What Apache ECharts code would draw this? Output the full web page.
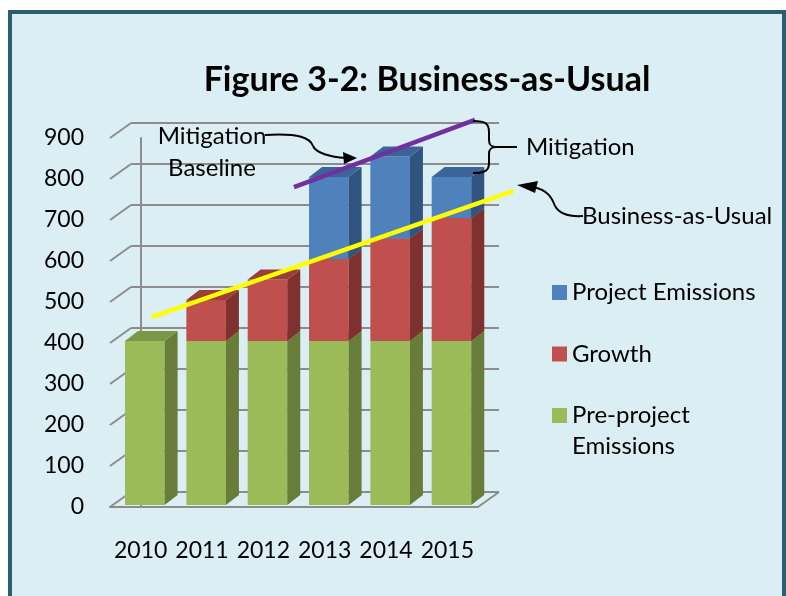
<!DOCTYPE html>
<html>
<head>
<meta charset="utf-8">
<script src="https://cdn.jsdelivr.net/npm/echarts@6/dist/echarts.min.js"></script>
<style>
  html, body { margin: 0; padding: 0; background: #fff; }
  #chart { width: 786px; height: 596px; }
</style>
</head>
<body>
<div id="chart"></div>
<script>
var years = ['2010', '2011', '2012', '2013', '2014', '2015']
var preProject = [400, 400, 400, 400, 400, 400]
var growth = [0, 100, 150, 200, 250, 300]
var projectEmissions = [0, 0, 0, 200, 200, 100]
var yTicks = [0, 100, 200, 300, 400, 500, 600, 700, 800, 900]
// trend lines drawn over the chart: [category position, value]
var bauTrend = [[0.18, 463], [6.08, 771]]
var baselineTrend = [[2.5, 780], [5.45, 944]]

var FONT = 'Lato'
var WALL_DX = 21, WALL_DY = -15   // depth of floor / back wall
var BAR_DX = 13, BAR_DY = -10     // depth of each column
var gridColor = '#8c8c8c'

// cumulative stack levels
var lvl1 = preProject.slice()
var lvl2 = lvl1.map(function (v, i) { return v + growth[i] })
var lvl3 = lvl2.map(function (v, i) { return v + projectEmissions[i] })

function stackData (base, top) {
  return years.map(function (y, i) { return [i, base ? base[i] : 0, top[i]] })
}

function wallItem (params, api) {
  var cs = params.coordSys
  var v = api.value(0)
  var y = api.coord([0, v])[1]
  var x0 = cs.x, x1 = cs.x + cs.width
  var st = { stroke: gridColor, lineWidth: 2 }
  var kids = [
    { type: 'line', shape: { x1: x0, y1: y, x2: x0 + WALL_DX, y2: y + WALL_DY }, style: st },
    { type: 'line', shape: { x1: x0 + WALL_DX, y1: y + WALL_DY, x2: x1 + WALL_DX, y2: y + WALL_DY }, style: st }
  ]
  if (v === 0) {
    kids.push({ type: 'line', shape: { x1: x1, y1: y, x2: x1 + WALL_DX, y2: y + WALL_DY }, style: st })
  }
  return { type: 'group', children: kids }
}

function barRenderer (front, side, topc) {
  return function (params, api) {
    var i = api.value(0), base = api.value(1), top = api.value(2)
    if (top <= base) return null
    var pt = api.coord([i, top])
    var pb = api.coord([i, base])
    var bw = api.size([1, 0])[0]
    var L = pt[0] - 0.255 * bw
    var R = L + 0.645 * bw
    var yT = pt[1] - 2, yB = pb[1] - 2
    return {
      type: 'group',
      children: [
        { type: 'rect', shape: { x: L, y: yT, width: R - L, height: yB - yT }, style: { fill: front } },
        { type: 'polygon', shape: { points: [[R, yT], [R + BAR_DX, yT + BAR_DY], [R + BAR_DX, yB + BAR_DY], [R, yB]] }, style: { fill: side } },
        { type: 'polygon', shape: { points: [[L, yT], [L + BAR_DX, yT + BAR_DY], [R + BAR_DX, yT + BAR_DY], [R, yT]] }, style: { fill: topc } }
      ]
    }
  }
}

function trendSeries (name, pts, color) {
  return {
    type: 'custom',
    name: name,
    xAxisIndex: 1,
    silent: true,
    z: 5,
    data: [pts[0].concat(pts[1])],
    encode: { x: [0, 2], y: [1, 3] },
    renderItem: function (params, api) {
      var a = api.coord([api.value(0), api.value(1)])
      var b = api.coord([api.value(2), api.value(3)])
      return { type: 'line', shape: { x1: a[0], y1: a[1], x2: b[0], y2: b[1] }, style: { stroke: color, lineWidth: 4.5 } }
    }
  }
}

// little helpers for the hand-drawn annotations
var ink = { fill: null, stroke: '#000', lineWidth: 2 }
function curve (x1, y1, c1x, c1y, c2x, c2y, x2, y2) {
  return { type: 'bezierCurve', z: 100, shape: { x1: x1, y1: y1, cpx1: c1x, cpy1: c1y, cpx2: c2x, cpy2: c2y, x2: x2, y2: y2 }, style: ink }
}
function seg (x1, y1, x2, y2) {
  return { type: 'line', z: 100, shape: { x1: x1, y1: y1, x2: x2, y2: y2 }, style: ink }
}
function label (text, x, y, align) {
  return { type: 'text', z: 100, x: x, y: y, style: { text: text, fontFamily: FONT, fontSize: 24, lineHeight: 32, fill: '#000', align: align, verticalAlign: 'middle' } }
}

var chart = echarts.init(document.getElementById('chart'))
chart.setOption({
  backgroundColor: '#ffffff',
  animation: false,
  title: {
    text: 'Figure 3-2: Business-as-Usual',
    left: 427,
    top: 63,
    textAlign: 'center',
    padding: 0,
    textStyle: { fontFamily: FONT, fontWeight: 'bold', fontSize: 34, color: '#000' }
  },
  legend: [{
    orient: 'vertical',
    left: 552,
    top: 277,
    padding: 0,
    itemGap: 30.5,
    itemWidth: 15,
    itemHeight: 15,
    selectedMode: false,
    icon: 'rect',
    data: ['Project Emissions', 'Growth'],
    textStyle: { fontFamily: FONT, fontSize: 24, color: '#000', lineHeight: 31 }
  }, {
    orient: 'vertical',
    left: 552,
    top: 369,
    padding: 0,
    itemWidth: 15,
    itemHeight: 15,
    selectedMode: false,
    icon: 'rect',
    data: ['Pre-project Emissions'],
    // blank first line keeps the icon level with "Pre-project"
    formatter: function () { return ' \nPre-project\nEmissions' },
    textStyle: { fontFamily: FONT, fontSize: 24, color: '#000', lineHeight: 31 }
  }],
  grid: { left: 110, right: 308, top: 138, bottom: 89 },
  xAxis: [{
    type: 'category',
    data: years,
    axisLine: { show: true, lineStyle: { color: gridColor, width: 2 } },
    axisTick: { show: false },
    axisLabel: { interval: 0, margin: 32, fontFamily: FONT, fontSize: 23, color: '#000' }
  }, {
    type: 'value',
    min: -0.5,
    max: 5.5,
    show: false
  }],
  yAxis: {
    type: 'value',
    min: 0,
    max: 900,
    interval: 100,
    axisLine: { show: true, lineStyle: { color: gridColor, width: 2 } },
    axisTick: { show: false },
    splitLine: { show: false },
    axisLabel: { margin: 26, fontFamily: FONT, fontSize: 23, color: '#000' }
  },
  series: [{
    type: 'custom',
    name: 'walls',
    silent: true,
    z: 1,
    data: yTicks.map(function (v) { return [v] }),
    encode: { y: 0 },
    renderItem: wallItem
  }, {
    type: 'custom',
    name: 'Pre-project Emissions',
    itemStyle: { color: '#9bbb59' },
    data: stackData(null, lvl1),
    encode: { x: 0, y: [1, 2] },
    renderItem: barRenderer('#9bbb59', '#677d39', '#7b9645')
  }, {
    type: 'custom',
    name: 'Growth',
    itemStyle: { color: '#c0504d' },
    data: stackData(lvl1, lvl2),
    encode: { x: 0, y: [1, 2] },
    renderItem: barRenderer('#c0504d', '#7f3130', '#9a3d3b')
  }, {
    type: 'custom',
    name: 'Project Emissions',
    itemStyle: { color: '#4f81bd' },
    data: stackData(lvl2, lvl3),
    encode: { x: 0, y: [1, 2] },
    renderItem: barRenderer('#4f81bd', '#2f5480', '#3b6597')
  },
  trendSeries('bau', bauTrend, '#ffff00'),
  trendSeries('baseline', baselineTrend, '#7030a0')
  ],
  graphic: [
    { type: 'rect', z: -10, shape: { x: 10, y: 12, width: 774, height: 600 }, style: { fill: '#dbeef4', stroke: '#2b5f70', lineWidth: 4 } },
    label('Mitigation\nBaseline', 212, 152, 'center'),
    curve(265, 135, 300, 133, 310, 138, 313, 146),
    curve(313, 146, 316, 153, 330, 157, 346, 158),
    { type: 'polygon', z: 100, shape: { points: [[357, 158], [343, 152], [344, 164]] }, style: { fill: '#000' } },
    // brace
    curve(473, 121, 486, 121, 489, 124, 489, 132),
    seg(489, 132, 489, 140),
    curve(489, 140, 489, 145, 491, 147, 497, 147),
    curve(497, 147, 491, 147, 489, 149, 489, 154),
    seg(489, 154, 489, 163),
    curve(489, 163, 489, 170, 486, 173, 473, 173),
    seg(495, 147, 517, 147),
    label('Mitigation', 526, 147, 'left'),
    curve(533, 187, 548, 190, 552, 198, 555, 206),
    curve(555, 206, 559, 213, 568, 217, 583, 216),
    { type: 'polygon', z: 100, shape: { points: [[517, 185], [538, 181], [535, 193]] }, style: { fill: '#000' } },
    label('Business-as-Usual', 582, 216, 'left')
  ]
})
</script>
</body>
</html>
